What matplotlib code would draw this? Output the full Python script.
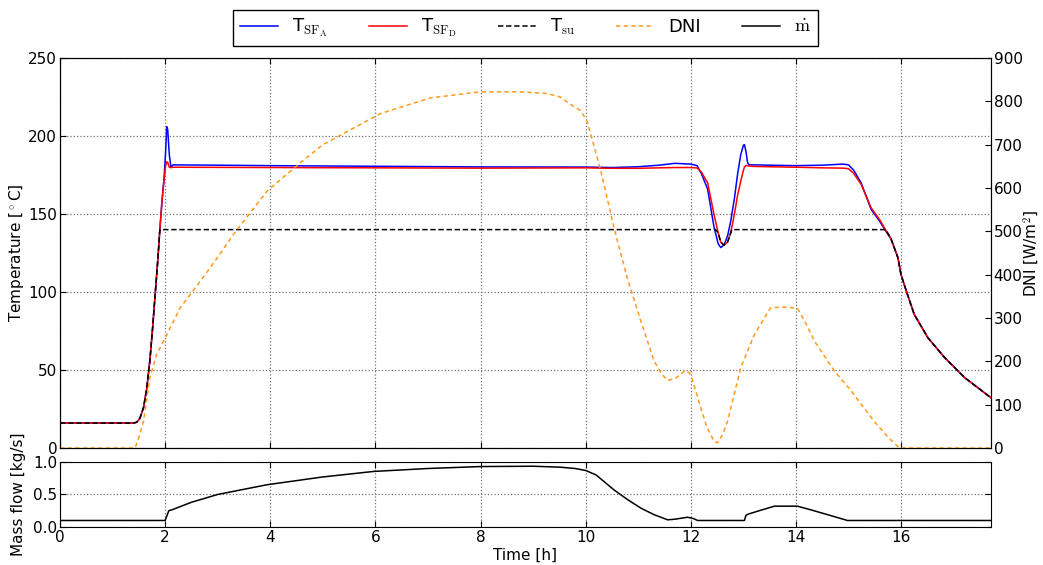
import numpy as np
import matplotlib
matplotlib.use("Agg")
import matplotlib.pyplot as plt

plt.rcParams['font.family'] = ['DejaVu Sans']
plt.rcParams['mathtext.fontset'] = 'cm'
plt.rcParams['font.size'] = 11

# temperatures of the solar field, A and D
t_sf = [0, 1.40, 1.46, 1.52, 1.59, 1.65, 1.71, 1.76, 1.81, 1.86, 1.90, 1.94, 1.98,
        2.01, 2.03, 2.05, 2.08, 2.11, 2.15, 2.2, 3, 4, 6, 8, 10, 10.5, 11, 11.4,
        11.7, 12.0, 12.12, 12.2, 12.32, 12.44, 12.52, 12.57, 12.63, 12.7, 12.76,
        12.83, 12.89, 12.95, 13.0, 13.02, 13.05, 13.08, 13.11, 13.2, 13.5, 14,
        14.5, 14.9, 15.0, 15.1, 15.24, 15.43, 15.6, 15.71, 15.81, 15.94, 16.0,
        16.1, 16.25, 16.51, 16.83, 17.21, 17.71]
T_A = [16, 16, 16.5, 19, 26, 38, 56, 76, 98, 120, 140, 158, 173,
       190, 206, 204, 188, 180, 181.5, 181.5, 181.3, 181, 180.6, 180.2, 180.1, 179.8, 180.3, 181.3,
       182.5, 182, 181, 176, 166, 142, 131, 128.5, 130, 136, 145.5,
       160, 175.5, 188, 194, 194.5, 190, 183, 181.5, 181.5, 181.3, 181,
       181.3, 182, 181.5, 178, 170, 153, 145, 139, 134, 122, 111,
       100.6, 85.7, 70.7, 57.9, 45.1, 32.2]
T_D = [16, 16, 16.5, 19, 26, 38, 56, 76, 98, 120, 140, 158, 172,
       181, 183.5, 183, 180, 179.7, 180, 180, 179.9, 179.8, 179.6, 179.4, 179.6, 179.3, 179.3, 179.6,
       179.8, 179.8, 179.5, 177, 170, 150, 138, 132, 130, 132, 138,
       150, 162, 171, 178, 180, 181.2, 181, 180.8, 180.5, 180.3, 180,
       179.6, 179.4, 179, 176, 169, 154, 146, 139.5, 134, 122, 111,
       100.6, 85.7, 70.7, 57.9, 45.1, 32.2]

# supply temperature
t_su = [0, 1.40, 1.46, 1.52, 1.59, 1.65, 1.71, 1.76, 1.81, 1.86, 1.90, 12.47, 12.52,
        12.57, 12.63, 12.7, 12.76, 12.78, 15.71, 15.81, 15.94, 16.0, 16.1, 16.25,
        16.51, 16.83, 17.21, 17.71]
T_su = [16, 16, 16.5, 19, 26, 38, 56, 76, 98, 120, 140, 140, 138,
        132, 130, 132, 138, 140, 140, 134, 122, 111, 100.6, 85.7,
        70.7, 57.9, 45.1, 32.2]

# direct normal irradiance
t_dni = [0, 1.43, 1.5, 1.59, 1.71, 1.84, 1.97, 2.1, 2.29, 2.67, 3.0, 3.3, 3.94, 4.57,
         5.0, 6.1, 7.05, 8.0, 8.76, 9.27, 9.52, 9.71, 9.9, 10.03, 10.29, 10.54,
         10.79, 11.05, 11.3, 11.45, 11.56, 11.7, 11.9, 12.0, 12.19, 12.3, 12.44,
         12.51, 12.6, 12.7, 12.95, 13.21, 13.52, 13.84, 14.03, 14.2, 14.35, 14.73,
         15.05, 15.24, 15.5, 15.75, 15.97, 17.71]
dni = [0, 0, 25, 62, 162, 216, 247, 278, 324, 385, 440, 493, 593, 658,
       700, 772, 808, 822, 822, 818, 810, 793, 779, 754, 639, 508,
       393, 293, 201, 170, 156, 160, 179, 170, 93, 50, 16,
       12, 30, 62, 185, 262, 324, 325, 322, 285, 247, 178,
       132, 101, 60, 25, 0, 0]

# mass flow
t_m = [0, 2.0, 2.07, 2.15, 2.5, 3.0, 3.5, 3.94, 5.0, 5.97, 7.0, 8.0, 9.0, 9.52, 9.8,
       10.0, 10.2, 10.54, 10.8, 11.05, 11.3, 11.56, 11.7, 11.94, 12.05, 12.13,
       13.02, 13.05, 13.1, 13.3, 13.59, 14.03, 14.3, 14.6, 14.98, 17.71]
m_dot = [0.1, 0.1, 0.25, 0.27, 0.38, 0.50, 0.58, 0.65, 0.77, 0.855, 0.9, 0.93, 0.935, 0.92, 0.9,
         0.87, 0.8, 0.57, 0.42, 0.29, 0.19, 0.11, 0.12, 0.15, 0.13, 0.1,
         0.1, 0.18, 0.2, 0.25, 0.32, 0.32, 0.26, 0.19, 0.1, 0.1]

fig = plt.figure(figsize=(10.43, 5.65), dpi=100)
ax = fig.add_axes([0.0575, 0.2071, 0.8926, 0.6902])
ax2 = ax.twinx()
axm = fig.add_axes([0.0575, 0.0673, 0.8926, 0.115])

l1, = ax.plot(t_sf, T_A, color='b', lw=1.1, label=r'T$_{\mathrm{SF_A}}$')
l2, = ax.plot(t_sf, T_D, color='r', lw=1.1, label=r'T$_{\mathrm{SF_D}}$')
l3, = ax.plot(t_su, T_su, color='k', lw=1.1, ls='--', dashes=(3.5, 1.8), label=r'T$_{\mathrm{su}}$')
l4, = ax2.plot(t_dni, dni, color='#ff9a1a', lw=1.1, ls='--', dashes=(2.8, 2.2), label='DNI')
l5, = axm.plot(t_m, m_dot, color='k', lw=1.1, label=r'$\dot{\mathrm{m}}$')

ax.set_xlim(0, 17.71)
ax.set_ylim(0, 250)
ax.set_yticks([0, 50, 100, 150, 200, 250])
ax.set_xticks(range(0, 17, 2))
ax.tick_params(labelbottom=False)
ax.set_ylabel(r'Temperature [$^\circ$C]')
ax.grid(True, linestyle=':', color='0.45', lw=0.9)

ax2.set_ylim(0, 900)
ax2.set_yticks(range(0, 901, 100))
ax2.set_ylabel(r'DNI [W/m$^2$]')

axm.set_xlim(0, 17.71)
axm.set_ylim(0, 1)
axm.set_yticks([0.0, 0.5, 1.0])
axm.set_xticks(range(0, 17, 2))
axm.set_xlabel('Time [h]', labelpad=2)
axm.set_ylabel('Mass flow [kg/s]')
axm.grid(True, linestyle=':', color='0.45', lw=0.9)

for a in (ax, ax2, axm):
    a.tick_params(direction='in', length=4, pad=2)
ax.tick_params(top=True, right=False)
axm.tick_params(top=True, right=True)
ax2.tick_params(left=False)

ax.yaxis.set_label_coords(-0.037, 0.5)
axm.yaxis.set_label_coords(-0.037, 0.5)
ax2.yaxis.set_label_coords(1.033, 0.5)

leg = ax.legend(handles=[l1, l2, l3, l4, l5], loc='lower center', bbox_to_anchor=(0.5, 1.03),
                ncol=5, fontsize=13, fancybox=False, edgecolor='k', framealpha=1,
                handlelength=2.1, columnspacing=2.25, borderaxespad=0)

fig.savefig('out.png', dpi=100)
